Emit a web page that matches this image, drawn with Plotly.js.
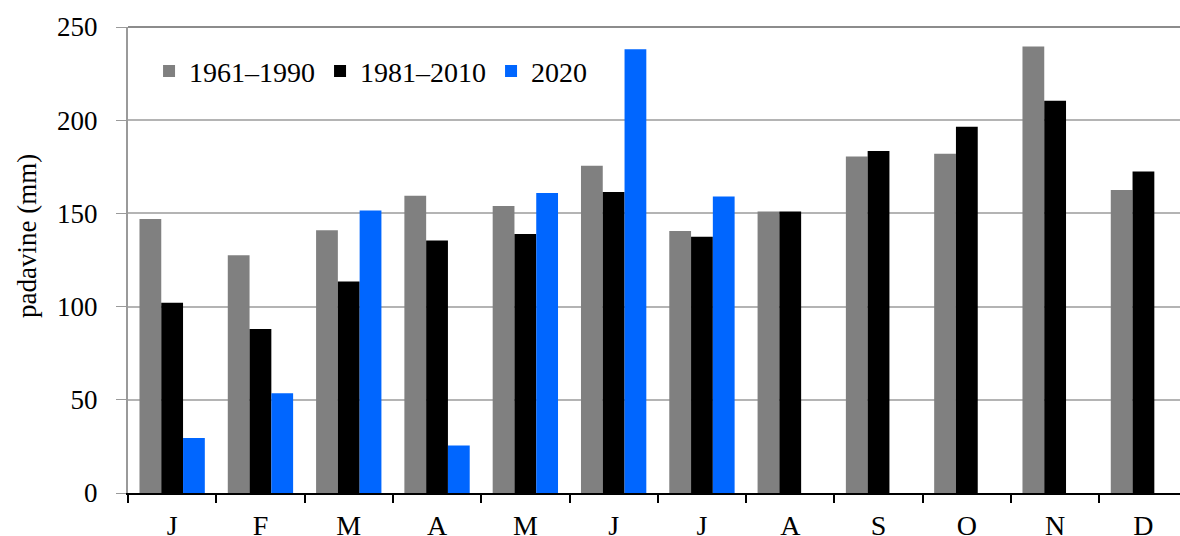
<!DOCTYPE html>
<html>
<head>
<meta charset="utf-8">
<script src="https://cdn.plot.ly/plotly-3.0.1.min.js"></script>
<style>
  html, body { margin: 0; padding: 0; background: #ffffff; }
  #chart { width: 1180px; height: 536px; }
</style>
</head>
<body>
<div id="chart"></div>
<script>
const months = ["J", "F", "M", "A", "M ", "J ", "J  ", "A ", "S", "O", "N", "D"];
const monthLabels = ["J", "F", "M", "A", "M", "J", "J", "A", "S", "O", "N", "D"];
const seriesNames = ["1961–1990", "1981–2010", "2020"];
const values1961 = [147, 127.5, 141, 159.5, 154, 175.5, 140.5, 151, 180.5, 182, 239.5, 162.5];
const values1981 = [102, 88, 113.5, 135.5, 139, 161.5, 137.5, 151, 183.5, 196.5, 210.5, 172.5];
const values2020 = [29.5, 53.5, 151.5, 25.5, 161, 238, 159, null, null, null, null, null];
const yTicks = [0, 50, 100, 150, 200, 250];

const serif = "Times New Roman, Liberation Serif, DejaVu Serif, serif";
const colors = ["#808080", "#000000", "#0066ff"];
const valueSets = [values1961, values1981, values2020];

const traces = valueSets.map((vals, i) => ({
  type: "bar",
  name: seriesNames[i],
  x: months,
  y: vals,
  marker: { color: colors[i], line: { width: 0 } },
  hoverinfo: "x+y+name"
}));

const layout = {
  width: 1180,
  height: 536,
  margin: { l: 128, r: 0, t: 27, b: 43, pad: 0 },
  paper_bgcolor: "#ffffff",
  plot_bgcolor: "#ffffff",
  barmode: "group",
  bargap: 0.26,
  bargroupgap: 0,
  font: { family: serif, size: 27, color: "#000000" },
  showlegend: true,
  legend: {
    orientation: "h",
    x: 0.02,
    xanchor: "left",
    y: 0.905,
    yanchor: "middle",
    bgcolor: "rgba(0,0,0,0)",
    borderwidth: 0,
    font: { family: serif, size: 28, color: "#000000" },
    traceorder: "normal"
  },
  xaxis: {
    type: "category",
    range: [-0.5, 11.414],
    tickmode: "array",
    tickvals: months,
    ticktext: monthLabels,
    tickson: "boundaries",
    ticks: "outside",
    ticklen: 8,
    tickwidth: 1.5,
    tickcolor: "#000000",
    showline: true,
    linecolor: "#000000",
    linewidth: 2,
    showgrid: false,
    zeroline: false,
    ticklabelstandoff: 6,
    tickfont: { family: serif, size: 28, color: "#000000" },
    fixedrange: true
  },
  yaxis: {
    range: [0, 250],
    tickmode: "array",
    tickvals: yTicks,
    ticktext: yTicks.map(String),
    ticks: "outside",
    ticklen: 10,
    tickwidth: 1,
    tickcolor: "#9a9a9a",
    showline: true,
    linecolor: "#9a9a9a",
    linewidth: 2,
    showgrid: true,
    gridcolor: "#b4b4b4",
    gridwidth: 1.5,
    zeroline: false,
    ticklabelstandoff: 13,
    tickfont: { family: serif, size: 27, color: "#000000" },
    fixedrange: true
  },
  shapes: [
    { type: "line", xref: "paper", yref: "paper", x0: 0, x1: 1, y0: 1, y1: 1,
      line: { color: "#8c8c8c", width: 2 } }
  ],
  annotations: [
    { text: "padavine (mm)", textangle: -90, xref: "paper", yref: "paper",
      x: -0.096, y: 0.5515, xanchor: "center", yanchor: "middle", showarrow: false,
      font: { family: serif, size: 27, color: "#000000" } }
  ]
};

Plotly.newPlot("chart", traces, layout, { displayModeBar: false, staticPlot: false });
</script>
</body>
</html>
